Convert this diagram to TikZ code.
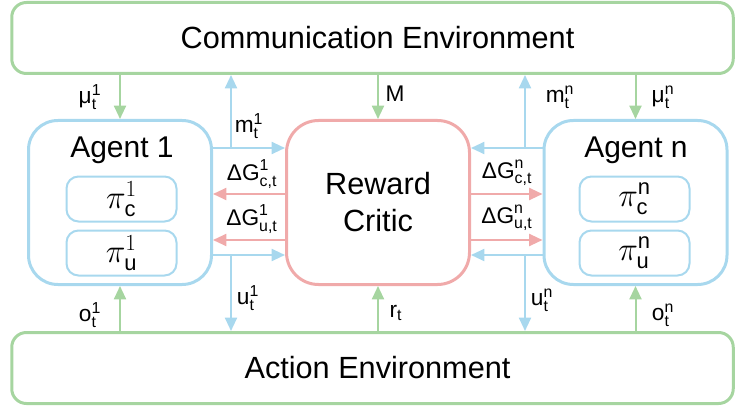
\documentclass[tikz,border=0pt]{standalone}
\usepackage{fontspec}
\usepackage{amsmath}
\setmainfont{Liberation Sans}
\usetikzlibrary{arrows.meta}
\definecolor{cgreen}{HTML}{A6D5A0}
\definecolor{cblue}{HTML}{A8D8EE}
\definecolor{cred}{HTML}{F0AAAA}
\begin{document}
\begin{tikzpicture}[x=0.75pt,y=-0.75pt,
  lbl/.style={font=\fontsize{17pt}{18pt}\selectfont, inner sep=0pt},
  env/.style={draw=cgreen, line width=2.25pt, rounded corners=11pt, minimum width={721.5*0.75pt}, minimum height={71*0.75pt}, inner sep=0pt, font=\fontsize{23pt}{25pt}\selectfont},
  agent/.style={draw=cblue, line width=2.25pt, rounded corners=22pt, minimum width={183*0.75pt}, minimum height={164*0.75pt}, inner sep=0pt},
  critic/.style={draw=cred, line width=2.25pt, rounded corners=24pt, minimum width={183*0.75pt}, minimum height={164*0.75pt}, inner sep=0pt, align=center, font=\fontsize{23pt}{27.75pt}\selectfont},
  pol/.style={draw=cblue, line width=1.5pt, rounded corners=9pt, minimum width={110*0.75pt}, minimum height={45*0.75pt}, inner sep=0pt},
  poltext/.style={inner sep=0pt, font=\fontsize{23.5pt}{25pt}\selectfont},
  big/.style={font=\fontsize{22.5pt}{25pt}\selectfont, inner sep=0pt},
  tip/.style={-{Triangle[length=10pt,width=9pt]}, line width=1.5pt},
  garr/.style={tip, draw=cgreen},
  barr/.style={tip, draw=cblue},
  rarr/.style={tip, draw=cred}
]
\useasboundingbox (0,0) rectangle (736,410);

% nodes
\node[env] (comm) at (372.5,38) {\hspace*{7.5pt}Communication Environment};
\node[env] (act) at (372.5,368) {\hspace*{7.5pt}Action Environment};
\node[agent] (a1) at (120,202.5) {};
\node[agent] (an) at (635.5,202.5) {};
\node[critic] (rc) at (378,202.5) {Reward\\Critic};
\node[big] (a1t) at (122,150) {Agent 1};
\node[big] (ant) at (636,150) {Agent n};
\node[pol] (pc1) at (121.5,199) {};
\node[pol] (pu1) at (121.5,253) {};
\node[pol] (pcn) at (634.5,199) {};
\node[pol] (pun) at (634.5,253) {};
\node[poltext] (tc1) at (pc1) {$\pi^{1}_{\mathrm{c}}$};
\node[poltext] (tu1) at (pu1) {$\pi^{1}_{\mathrm{u}}$};
\node[poltext] (tcn) at (pcn) {$\pi^{\mathrm{n}}_{\mathrm{c}}$};
\node[poltext] (tun) at (pun) {$\pi^{\mathrm{n}}_{\mathrm{u}}$};

% helper coordinates
\coordinate (ya) at (0,148);
\coordinate (yb) at (0,194);
\coordinate (yc) at (0,240);
\coordinate (yd) at (0,255);
\coordinate (xl) at (231,0);
\coordinate (xr) at (525,0);

% green vertical arrows
\draw[garr] (comm.south -| a1.north) -- (a1.north);
\draw[garr] (comm.south -| rc.north) -- (rc.north);
\draw[garr] (comm.south -| an.north) -- (an.north);
\draw[garr] (act.north -| a1.south) -- (a1.south);
\draw[garr] (act.north -| rc.south) -- (rc.south);
\draw[garr] (act.north -| an.south) -- (an.south);

% left side
\draw[barr] (a1.east |- ya) -- (rc.west |- ya);
\draw[barr] (xl |- ya) -- (xl |- comm.south);
\draw[rarr] (rc.west |- yb) -- (a1.east |- yb);
\draw[rarr] (rc.west |- yc) -- (a1.east |- yc);
\draw[barr] (a1.east |- yd) -- (rc.west |- yd);
\draw[barr] (xl |- yd) -- (xl |- act.north);

% right side
\draw[barr] (an.west |- ya) -- (rc.east |- ya);
\draw[barr] (xr |- ya) -- (xr |- comm.south);
\draw[rarr] (rc.east |- yb) -- (an.west |- yb);
\draw[rarr] (rc.east |- yc) -- (an.west |- yc);
\draw[barr] (an.west |- yd) -- (rc.east |- yd);
\draw[barr] (xr |- yd) -- (xr |- act.north);

% labels
\node[lbl] (lmu1) at (90,97) {$\text{μ}^{\text{1}}_{\text{t}}$};
\node[lbl] (lm1) at (249,126) {$\text{m}^{\text{1}}_{\text{t}}$};
\node[lbl] (lgc1) at (252,174) {$\text{ΔG}^{\text{1}}_{\text{c,t}}$};
\node[lbl] (lgu1) at (252,219) {$\text{ΔG}^{\text{1}}_{\text{u,t}}$};
\node[lbl] (lu1) at (248,298) {$\text{u}^{\text{1}}_{\text{t}}$};
\node[lbl] (lo1) at (90,315) {$\text{o}^{\text{1}}_{\text{t}}$};
\node[lbl] (lM) at (395,94) {M};
\node[lbl] (lr) at (396,313) {$\text{r}_{\text{t}}$};
\node[lbl] (lmn) at (560,97) {$\text{m}^{\text{n}}_{\text{t}}$};
\node[lbl] (lmun) at (663,97) {$\text{μ}^{\text{n}}_{\text{t}}$};
\node[lbl] (lgcn) at (507,173) {$\text{ΔG}^{\text{n}}_{\text{c,t}}$};
\node[lbl] (lgun) at (507,218) {$\text{ΔG}^{\text{n}}_{\text{u,t}}$};
\node[lbl] (lun) at (542,300) {$\text{u}^{\text{n}}_{\text{t}}$};
\node[lbl] (lon) at (663,315) {$\text{o}^{\text{n}}_{\text{t}}$};
\end{tikzpicture}
\end{document}
